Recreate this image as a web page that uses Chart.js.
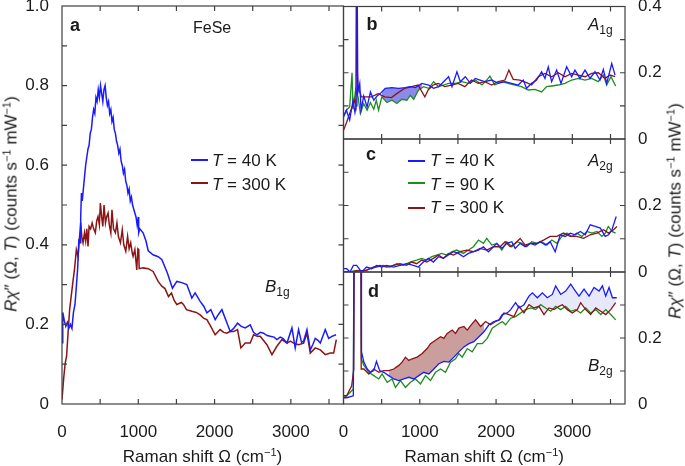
<!DOCTYPE html>
<html>
<head>
<meta charset="utf-8">
<script src="https://cdn.jsdelivr.net/npm/chart.js@4"></script>
<style>
body { margin: 0; background: #fff; }
#wrap { position: relative; width: 685px; height: 466px; overflow: hidden; font-family: "Liberation Sans", Arial, sans-serif; color: #1a1a1a; }
canvas { position: absolute; left: 0; top: 0; }
.t { position: absolute; white-space: nowrap; line-height: 1; }
.lab { font-weight: bold; font-size: 18px; }
.sym { font-size: 17px; font-style: italic; }
.sym sub { font-size: 12px; font-style: normal; vertical-align: -4px; line-height: 0; }
.leg { font-size: 17px; }
.sw { position: absolute; height: 2px; width: 17px; }
.ytitle { position: absolute; font-size: 17px; white-space: nowrap; line-height: 1; transform: translate(-50%, -50%) rotate(-90deg); }
.xtitle { position: absolute; font-size: 17px; white-space: nowrap; line-height: 1; transform: translateX(-50%); }
sup { font-size: 11px; vertical-align: 6px; line-height: 0; }
</style>
</head>
<body>
<div id="wrap">
  <canvas id="chartA" width="685" height="466"></canvas>
  <canvas id="chartB" width="685" height="466"></canvas>
  <canvas id="chartC" width="685" height="466"></canvas>
  <canvas id="chartD" width="685" height="466"></canvas>

  <div class="t lab" style="left:70px;top:15.5px">a</div>
  <div class="t" style="left:193px;top:19.5px;font-size:16px">FeSe</div>
  <div class="sw" style="left:191px;top:158.5px;background:#1a1aff"></div>
  <div class="t leg" style="left:212px;top:152.3px"><i>T</i> = 40 K</div>
  <div class="sw" style="left:191px;top:181.8px;background:#8c1414"></div>
  <div class="t leg" style="left:212px;top:175.6px"><i>T</i> = 300 K</div>
  <div class="t sym" style="left:265px;top:278.3px">B<sub>1g</sub></div>

  <div class="t lab" style="left:366.5px;top:14.8px">b</div>
  <div class="t sym" style="left:588px;top:15.6px">A<sub>1g</sub></div>

  <div class="t lab" style="left:366px;top:144.8px">c</div>
  <div class="sw" style="left:408px;top:159.8px;background:#1a1aff"></div>
  <div class="t leg" style="left:430px;top:152.3px"><i>T</i> = 40 K</div>
  <div class="sw" style="left:408px;top:182.4px;background:#1e8c1e"></div>
  <div class="t leg" style="left:430px;top:175.6px"><i>T</i> = 90 K</div>
  <div class="sw" style="left:408px;top:206.8px;background:#8c1414"></div>
  <div class="t leg" style="left:430px;top:198.9px"><i>T</i> = 300 K</div>
  <div class="t sym" style="left:588px;top:152.3px">A<sub>2g</sub></div>

  <div class="t lab" style="left:368px;top:281.5px">d</div>
  <div class="t sym" style="left:588px;top:357.3px">B<sub>2g</sub></div>

  <div class="xtitle" style="left:202.5px;top:448px">Raman shift Ω (cm<sup>−1</sup>)</div>
  <div class="xtitle" style="left:484.3px;top:448px">Raman shift Ω (cm<sup>−1</sup>)</div>
  <div class="ytitle" style="left:11px;top:204px"><i>R</i><i>χ</i>″ (Ω, <i>T</i>) (counts s<sup>−1</sup> mW<sup>−1</sup>)</div>
  <div class="ytitle" style="left:675px;top:211px"><i>R</i><i>χ</i>″ (Ω, <i>T</i>) (counts s<sup>−1</sup> mW<sup>−1</sup>)</div>
</div>

<script>
// panel a, B1g, FeSe
var fese40 = [[0,0.154],[10,0.23],[30,0.21],[50,0.195],[70,0.205],[90,0.19],[110,0.2],[130,0.19],[150,0.23],[170,0.25],[190,0.3],[205,0.34],[220,0.41],[236,0.405],[245,0.47],[255,0.53],[265,0.51],[280,0.54],[295,0.57],[310,0.6],[325,0.62],[340,0.64],[355,0.65],[370,0.68],[385,0.69],[400,0.72],[415,0.74],[430,0.73],[445,0.77],[460,0.76],[475,0.79],[490,0.77],[505,0.8],[520,0.78],[535,0.76],[550,0.79],[565,0.8],[580,0.77],[595,0.75],[610,0.76],[625,0.73],[640,0.74],[655,0.71],[670,0.72],[685,0.69],[700,0.68],[715,0.66],[730,0.65],[745,0.63],[760,0.64],[775,0.61],[790,0.6],[805,0.58],[820,0.59],[835,0.56],[850,0.55],[865,0.53],[880,0.54],[895,0.51],[910,0.52],[925,0.5],[940,0.49],[955,0.48],[970,0.47],[985,0.45],[1000,0.47],[1005,0.43],[1020,0.44],[1063,0.43],[1100,0.41],[1130,0.385],[1194,0.375],[1260,0.37],[1308,0.363],[1380,0.33],[1448,0.291],[1505,0.308],[1570,0.305],[1636,0.3],[1702,0.266],[1745,0.279],[1811,0.258],[1860,0.245],[1899,0.229],[1951,0.237],[2008,0.212],[2050,0.225],[2096,0.237],[2150,0.21],[2205,0.182],[2250,0.19],[2301,0.203],[2350,0.195],[2402,0.191],[2467,0.199],[2510,0.18],[2555,0.174],[2600,0.18],[2642,0.178],[2690,0.172],[2730,0.17],[2780,0.168],[2817,0.162],[2860,0.168],[2896,0.165],[2949,0.153],[3014,0.191],[3057,0.141],[3101,0.187],[3140,0.155],[3167,0.158],[3211,0.187],[3255,0.136],[3290,0.15],[3320,0.165],[3355,0.16],[3386,0.153],[3451,0.187],[3495,0.165],[3539,0.17],[3592,0.174]];
var fese300 = [[0,0.011],[20,0.06],[40,0.1],[60,0.12],[80,0.18],[100,0.237],[120,0.27],[145,0.31],[165,0.34],[188,0.388],[210,0.37],[230,0.42],[245,0.455],[260,0.42],[276,0.405],[295,0.43],[310,0.41],[325,0.44],[341,0.396],[355,0.446],[375,0.44],[395,0.455],[415,0.44],[437,0.43],[455,0.46],[472,0.471],[490,0.45],[503,0.505],[520,0.47],[535,0.446],[551,0.5],[570,0.455],[585,0.47],[604,0.48],[620,0.45],[640,0.43],[655,0.488],[675,0.44],[700,0.43],[720,0.455],[740,0.42],[766,0.405],[790,0.438],[810,0.4],[836,0.384],[860,0.421],[880,0.39],[901,0.405],[920,0.38],[932,0.371],[955,0.388],[980,0.337],[995,0.39],[1006,0.388],[1012,0.34],[1063,0.342],[1130,0.34],[1194,0.333],[1260,0.308],[1308,0.296],[1350,0.29],[1396,0.27],[1435,0.279],[1470,0.26],[1505,0.25],[1565,0.255],[1592,0.25],[1631,0.237],[1702,0.233],[1760,0.23],[1811,0.224],[1860,0.215],[1899,0.212],[1950,0.195],[2008,0.174],[2073,0.187],[2120,0.18],[2161,0.178],[2200,0.182],[2249,0.182],[2301,0.187],[2345,0.141],[2402,0.153],[2467,0.153],[2511,0.174],[2560,0.17],[2598,0.17],[2640,0.16],[2686,0.149],[2752,0.124],[2817,0.145],[2883,0.162],[2949,0.153],[2993,0.158],[3036,0.153],[3101,0.149],[3167,0.153],[3211,0.178],[3255,0.128],[3320,0.141],[3386,0.136],[3451,0.124],[3517,0.128],[3561,0.128],[3596,0.162]];

// panel b, A1g
var a1g40 = [[0,0.067],[38,0.087],[81,0.057],[125,0.117],[150,0.08],[165,0.1],[176,0.62],[188,0.14],[213,0.168],[230,0.087],[265,0.13],[309,0.097],[353,0.142],[397,0.117],[440,0.13],[481,0.137],[547,0.153],[634,0.155],[722,0.153],[809,0.155],[875,0.158],[941,0.155],[1028,0.168],[1116,0.163],[1181,0.153],[1247,0.158],[1312,0.173],[1378,0.188],[1422,0.158],[1487,0.203],[1531,0.173],[1597,0.188],[1662,0.168],[1728,0.183],[1790,0.178],[1853,0.173],[1941,0.178],[2028,0.168],[2116,0.173],[2203,0.168],[2291,0.163],[2356,0.178],[2400,0.153],[2466,0.168],[2531,0.178],[2597,0.203],[2641,0.183],[2684,0.218],[2728,0.173],[2794,0.208],[2851,0.168],[2925,0.218],[2991,0.188],[3034,0.208],[3100,0.183],[3166,0.208],[3231,0.183],[3297,0.203],[3362,0.178],[3406,0.21],[3450,0.168],[3516,0.228],[3560,0.193]];
var a1g90 = [[0,0.067],[38,0.087],[81,0.097],[112,0.2],[125,0.09],[160,0.15],[191,0.127],[221,0.077],[265,0.107],[309,0.087],[353,0.11],[397,0.09],[430,0.117],[459,0.087],[503,0.127],[569,0.11],[634,0.117],[700,0.107],[765,0.12],[831,0.117],[875,0.132],[920,0.12],[984,0.148],[1050,0.158],[1116,0.153],[1181,0.173],[1247,0.158],[1312,0.163],[1378,0.168],[1466,0.168],[1553,0.173],[1641,0.168],[1728,0.178],[1816,0.163],[1878,0.178],[1919,0.19],[1984,0.163],[2072,0.173],[2159,0.168],[2247,0.163],[2334,0.158],[2422,0.148],[2509,0.15],[2597,0.142],[2663,0.158],[2728,0.16],[2816,0.163],[2903,0.168],[2991,0.178],[3078,0.183],[3166,0.178],[3253,0.183],[3341,0.173],[3406,0.193],[3450,0.163],[3506,0.188],[3568,0.16]];
var a1g300 = [[0,0.026],[40,0.05],[81,0.077],[147,0.117],[162,0.1],[170,0.62],[182,0.2],[191,0.158],[235,0.127],[300,0.127],[366,0.127],[453,0.137],[541,0.127],[628,0.125],[716,0.14],[803,0.153],[891,0.158],[978,0.163],[1066,0.127],[1110,0.148],[1175,0.163],[1241,0.168],[1328,0.158],[1416,0.163],[1503,0.168],[1591,0.158],[1678,0.178],[1766,0.168],[1853,0.173],[1941,0.163],[2028,0.173],[2116,0.178],[2168,0.208],[2225,0.18],[2312,0.178],[2400,0.17],[2466,0.163],[2553,0.188],[2641,0.198],[2728,0.188],[2816,0.2],[2903,0.188],[2991,0.198],[3078,0.193],[3166,0.188],[3253,0.198],[3341,0.2],[3428,0.183],[3494,0.193],[3560,0.188]];

// panel c, A2g
var a2g40 = [[0,0.01],[42,0.01],[85,0],[130,0.02],[172,0.02],[237,0],[303,0.015],[368,0.01],[434,0.02],[500,0.015],[566,0.02],[653,0.015],[741,0.02],[828,0.025],[916,0.02],[981,0.015],[1047,0.03],[1113,0.041],[1178,0.03],[1244,0.046],[1309,0.041],[1375,0.051],[1441,0.061],[1506,0.056],[1572,0.046],[1638,0.056],[1703,0.061],[1769,0.066],[1834,0.076],[1900,0.061],[1966,0.076],[2009,0.086],[2075,0.071],[2141,0.086],[2206,0.091],[2250,0.071],[2316,0.086],[2381,0.076],[2447,0.086],[2512,0.081],[2578,0.091],[2644,0.081],[2709,0.091],[2775,0.061],[2841,0.112],[2906,0.107],[2972,0.117],[3037,0.112],[3103,0.122],[3169,0.112],[3234,0.142],[3300,0.137],[3366,0.132],[3431,0.107],[3475,0.112],[3519,0.127],[3575,0.167]];
var a2g90 = [[0,0],[85,0],[172,0.005],[260,0.003],[346,0.01],[434,0.015],[522,0.02],[609,0.015],[697,0.025],[784,0.02],[872,0.03],[959,0.036],[1025,0.041],[1090,0.036],[1156,0.046],[1222,0.051],[1287,0.056],[1353,0.051],[1419,0.061],[1484,0.066],[1572,0.056],[1638,0.066],[1703,0.076],[1769,0.096],[1834,0.086],[1878,0.101],[1944,0.081],[2009,0.086],[2075,0.066],[2141,0.091],[2206,0.076],[2272,0.091],[2338,0.086],[2403,0.076],[2469,0.091],[2534,0.086],[2600,0.091],[2666,0.081],[2731,0.096],[2797,0.086],[2862,0.107],[2928,0.117],[2994,0.107],[3059,0.117],[3125,0.107],[3190,0.122],[3256,0.117],[3322,0.122],[3387,0.107],[3431,0.117],[3471,0.137],[3519,0.122],[3567,0.117]];
var a2g300 = [[0,0],[85,0],[172,0.003],[303,0.005],[391,0.015],[478,0.02],[566,0.015],[653,0.02],[741,0.025],[828,0.02],[894,0.03],[959,0.025],[1025,0.036],[1090,0.03],[1178,0.041],[1244,0.051],[1309,0.041],[1375,0.056],[1441,0.051],[1528,0.061],[1616,0.066],[1703,0.061],[1791,0.071],[1878,0.066],[1966,0.076],[2053,0.076],[2119,0.091],[2185,0.076],[2250,0.086],[2316,0.101],[2381,0.081],[2447,0.086],[2534,0.086],[2622,0.096],[2709,0.107],[2797,0.107],[2884,0.117],[2972,0.107],[3059,0.107],[3147,0.101],[3234,0.112],[3322,0.117],[3409,0.127],[3475,0.117],[3540,0.127],[3584,0.137]];

// panel d, B2g
var b2g40 = [[0,0.019],[42,0.019],[129,0.025],[140,0.6],[232,0.6],[236,0.158],[267,0.127],[311,0.106],[354,0.096],[397,0.101],[432,0.129],[475,0.101],[528,0.096],[593,0.086],[659,0.076],[725,0.071],[790,0.076],[856,0.081],[922,0.076],[987,0.086],[1053,0.096],[1118,0.091],[1184,0.106],[1250,0.122],[1316,0.129],[1381,0.127],[1447,0.142],[1512,0.158],[1578,0.173],[1644,0.183],[1709,0.189],[1775,0.204],[1841,0.219],[1906,0.24],[1972,0.25],[2037,0.255],[2081,0.271],[2147,0.276],[2191,0.286],[2256,0.307],[2300,0.291],[2366,0.301],[2431,0.327],[2475,0.337],[2541,0.322],[2606,0.337],[2672,0.322],[2737,0.332],[2781,0.358],[2847,0.332],[2912,0.342],[2978,0.363],[3022,0.348],[3087,0.327],[3153,0.348],[3219,0.327],[3284,0.353],[3350,0.342],[3394,0.358],[3437,0.327],[3481,0.353],[3525,0.322],[3582,0.322]];
var b2g90 = [[0,0.019],[42,0.025],[129,0.045],[138,0.6],[230,0.6],[234,0.137],[267,0.117],[332,0.096],[397,0.086],[462,0.076],[506,0.091],[572,0.066],[637,0.076],[681,0.05],[747,0.071],[812,0.05],[878,0.066],[943,0.076],[1009,0.061],[1075,0.086],[1140,0.071],[1206,0.096],[1272,0.106],[1337,0.096],[1403,0.127],[1469,0.137],[1512,0.153],[1556,0.142],[1622,0.168],[1687,0.158],[1753,0.183],[1819,0.183],[1884,0.199],[1950,0.23],[2016,0.24],[2081,0.25],[2125,0.24],[2191,0.26],[2256,0.265],[2322,0.276],[2387,0.286],[2453,0.291],[2519,0.286],[2584,0.301],[2650,0.291],[2716,0.281],[2781,0.296],[2847,0.286],[2912,0.296],[2978,0.281],[3044,0.286],[3109,0.276],[3175,0.291],[3240,0.276],[3306,0.286],[3372,0.271],[3437,0.286],[3503,0.271],[3568,0.255]];
var b2g300 = [[0,0.025],[42,0.025],[107,0.055],[135,0.106],[142,0.6],[226,0.6],[232,0.106],[267,0.106],[332,0.091],[397,0.106],[462,0.096],[528,0.101],[593,0.101],[659,0.106],[725,0.117],[768,0.127],[812,0.142],[856,0.132],[900,0.137],[965,0.142],[1031,0.153],[1096,0.168],[1140,0.183],[1206,0.193],[1272,0.204],[1316,0.199],[1359,0.214],[1425,0.224],[1469,0.214],[1512,0.23],[1578,0.235],[1622,0.224],[1674,0.24],[1731,0.255],[1797,0.235],[1863,0.25],[1928,0.24],[1994,0.25],[2050,0.255],[2103,0.276],[2169,0.271],[2234,0.265],[2300,0.296],[2366,0.276],[2431,0.301],[2497,0.291],[2562,0.296],[2628,0.271],[2694,0.291],[2759,0.286],[2825,0.296],[2869,0.301],[2934,0.286],[3000,0.276],[3066,0.286],[3109,0.307],[3175,0.286],[3240,0.271],[3306,0.291],[3372,0.281],[3437,0.271],[3503,0.286],[3568,0.307]];

// tick labels
var xLabels = [0, 1000, 2000, 3000];
var aYLabels = [0, 0.2, 0.4, 0.6, 0.8, 1.0];
var bYLabels = [0, 0.2, 0.4];
var cYLabels = [0, 0.2];
var dYLabels = [0, 0.2];
var xMinor = [500, 1000, 1500, 2000, 2500, 3000, 3500];
var aYMinor = [0.1, 0.2, 0.3, 0.4, 0.5, 0.6, 0.7, 0.8, 0.9];
var rYMinor = [0.1, 0.2, 0.3];

var XMAX = 3690;
var BLUE = '#1a1aff', RED = '#8c1414', GREEN = '#1e8c1e';

Chart.defaults.font.family = '"Liberation Sans", Arial, sans-serif';
Chart.defaults.font.size = 17;
Chart.defaults.color = '#1a1a1a';

function pts(arr) {
    return arr.map(function (p) { return { x: p[0], y: p[1] }; });
}
function between(arr, lo, hi) {
    return arr.filter(function (p) { return p[0] >= lo && p[0] <= hi; });
}
function line(arr, color, w) {
    return { data: pts(arr), borderColor: color, borderWidth: w || 1.3, pointRadius: 0, fill: false, tension: 0 };
}
function band(top, bottom, color) {
    return [
        { data: pts(top), borderWidth: 0, pointRadius: 0, borderColor: 'rgba(0,0,0,0)', fill: { target: '+1', above: color, below: 'rgba(0,0,0,0)' } },
        { data: pts(bottom), borderWidth: 0, pointRadius: 0, borderColor: 'rgba(0,0,0,0)', fill: false }
    ];
}

// frame with inward ticks on all four sides
function frame(xt, yt) {
    return {
        id: 'frame',
        afterDatasetsDraw: function (chart) {
            var a = chart.chartArea, ctx = chart.ctx;
            var sx = chart.scales.x, sy = chart.scales.y;
            ctx.save();
            ctx.strokeStyle = '#404040';
            ctx.lineWidth = 1.2;
            ctx.beginPath();
            xt.forEach(function (v) {
                var p = sx.getPixelForValue(v);
                ctx.moveTo(p, a.bottom); ctx.lineTo(p, a.bottom - 5);
                ctx.moveTo(p, a.top); ctx.lineTo(p, a.top + 5);
            });
            yt.forEach(function (v) {
                var p = sy.getPixelForValue(v);
                ctx.moveTo(a.left, p); ctx.lineTo(a.left + 5, p);
                ctx.moveTo(a.right, p); ctx.lineTo(a.right - 5, p);
            });
            ctx.stroke();
            ctx.strokeRect(a.left, a.top, a.right - a.left, a.bottom - a.top);
            ctx.restore();
        }
    };
}

function xScale(show) {
    var s = {
        type: 'linear', min: 0, max: XMAX, display: show,
        grid: { display: false }, border: { display: false },
        ticks: { padding: 10, maxRotation: 0, autoSkip: false, callback: function (v) { return String(v); } },
        afterBuildTicks: function (sc) { sc.ticks = xLabels.map(function (v) { return { value: v }; }); }
    };
    if (show) {
        s.afterFit = function (sc) { sc.height = 62; sc.paddingLeft = 0; sc.paddingRight = 0; };
    }
    return s;
}
function yScale(pos, max, labels) {
    return {
        type: 'linear', position: pos, min: 0, max: max,
        grid: { display: false }, border: { display: false },
        ticks: { padding: 5, autoSkip: false, callback: function (v) { return v === 0 ? '0' : v.toFixed(1); } },
        afterBuildTicks: function (sc) { sc.ticks = labels.map(function (v) { return { value: v }; }); },
        afterFit: function (sc) { sc.width = pos === 'left' ? 62 : 60; sc.paddingTop = 0; sc.paddingBottom = 0; }
    };
}

function makeChart(id, datasets, pad, showX, yPos, yMax, yLabels, yMinor) {
    return new Chart(document.getElementById(id), {
        type: 'line',
        data: { datasets: datasets },
        options: {
            responsive: false,
            animation: false,
            devicePixelRatio: 1,
            layout: { padding: pad },
            scales: { x: xScale(showX), y: yScale(yPos, yMax, yLabels) },
            plugins: { legend: { display: false }, tooltip: { enabled: false }, filler: { drawTime: 'beforeDatasetsDraw' } }
        },
        plugins: [frame(xMinor, yMinor)]
    });
}

makeChart('chartA',
    [line(fese40, BLUE, 1.5), line(fese300, RED, 1.5)],
    { top: 6, left: 0, right: 341.5, bottom: 0 }, true, 'left', 1.0, aYLabels, aYMinor);

makeChart('chartB',
    [line(a1g40, BLUE), line(a1g300, RED), line(a1g90, GREEN)]
        .concat(band(between(a1g40, 480, 1050), between(a1g90, 480, 1050), 'rgba(60,60,220,0.6)')),
    { top: 6.5, left: 343.5, right: 0, bottom: 327 }, false, 'right', 0.4, bYLabels, rYMinor);

makeChart('chartC',
    [line(a2g40, BLUE), line(a2g300, RED), line(a2g90, GREEN)],
    { top: 139, left: 343.5, right: 0, bottom: 194 }, false, 'right', 0.4, cYLabels, rYMinor);

makeChart('chartD',
    [line(b2g40, BLUE), line(b2g300, RED), line(b2g90, GREEN)]
        .concat(band(between(b2g300, 560, 1900), between(b2g40, 560, 1900), 'rgba(140,40,40,0.45)'))
        .concat(band(between(b2g40, 2420, 3600), between(b2g300, 2420, 3600), 'rgba(100,100,230,0.15)')),
    { top: 272, left: 343.5, right: 0, bottom: 0 }, true, 'right', 0.4, dYLabels, rYMinor);
</script>
</body>
</html>
